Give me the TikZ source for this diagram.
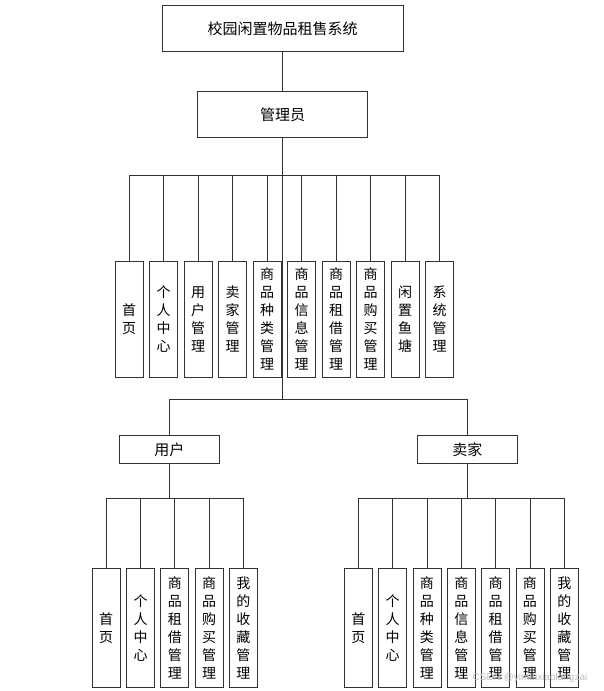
\documentclass[tikz,border=0pt]{standalone}
\usepackage{fontspec}
\setmainfont{Noto Sans CJK SC}
\newfontfamily\markfont{Liberation Sans}
\tikzset{
  hbox/.style={draw=black!80, line width=0.8pt, minimum width=#1, minimum height=46,
    inner sep=0pt, font=\fontsize{15}{18}\selectfont},
  vbox/.style={draw=black!80, line width=0.8pt, minimum width=28, minimum height=#1,
    inner sep=0pt, anchor=north, align=center, font=\fontsize{14}{18}\selectfont},
  link/.style={draw=black!80, line width=0.8pt}
}
\begin{document}
\begin{tikzpicture}[x=1pt,y=-1pt]
\useasboundingbox (0,0) rectangle (604,691);
% top part
\node[hbox=241] (sys) at (282.5,28.5) {校园闲置物品租售系统};
\node[hbox=170] (admin) at (282.5,114.5) {管理员};
\draw[link] (sys) -- (admin);
\coordinate (busA) at (282.5,175);
\coordinate (busB) at (282.5,399);
\draw[link] (admin) -- (busA);
\foreach \txt [count=\i from 0] in {首\\页, 个\\人\\中\\心, 用\\户\\管\\理, 卖\\家\\管\\理,
  商\\品\\种\\类\\管\\理, 商\\品\\信\\息\\管\\理, 商\\品\\租\\借\\管\\理,
  商\\品\\购\\买\\管\\理, 闲\\置\\鱼\\塘, 系\\统\\管\\理}{
  \node[vbox=116] (a\i) at (129+34.5*\i,261) {\txt};
  \draw[link] (busA) -| (a\i.north);
}
\draw[link] (busA) -- (busB);
% user and seller
\node[hbox=100, minimum height=28] (user) at (169.3,449.5) {用户};
\node[hbox=100, minimum height=28] (seller) at (467.3,449.5) {卖家};
\draw[link] (busB) -| (user.north);
\draw[link] (busB) -| (seller.north);
\coordinate (busU) at (169.3,498.3);
\coordinate (busS) at (467.3,498.3);
\draw[link] (user) -- (busU);
\draw[link] (seller) -- (busS);
\foreach \txt [count=\i from 0] in {首\\页, 个\\人\\中\\心, 商\\品\\租\\借\\管\\理,
  商\\品\\购\\买\\管\\理, 我\\的\\收\\藏\\管\\理}{
  \node[vbox=119] (u\i) at (106.2+34.3*\i,568) {\txt};
  \draw[link] (busU) -| (u\i.north);
}
\foreach \txt [count=\i from 0] in {首\\页, 个\\人\\中\\心, 商\\品\\种\\类\\管\\理,
  商\\品\\信\\息\\管\\理, 商\\品\\租\\借\\管\\理, 商\\品\\购\\买\\管\\理,
  我\\的\\收\\藏\\管\\理}{
  \node[vbox=119] (s\i) at (358.3+34.33*\i,568) {\txt};
  \draw[link] (busS) -| (s\i.north);
}
% watermark
\node[text=black!25, font=\markfont\fontsize{10}{12}\selectfont] (mark) at (530,678) {CSDN @yimeixiaolangzai};
\end{tikzpicture}
\end{document}
